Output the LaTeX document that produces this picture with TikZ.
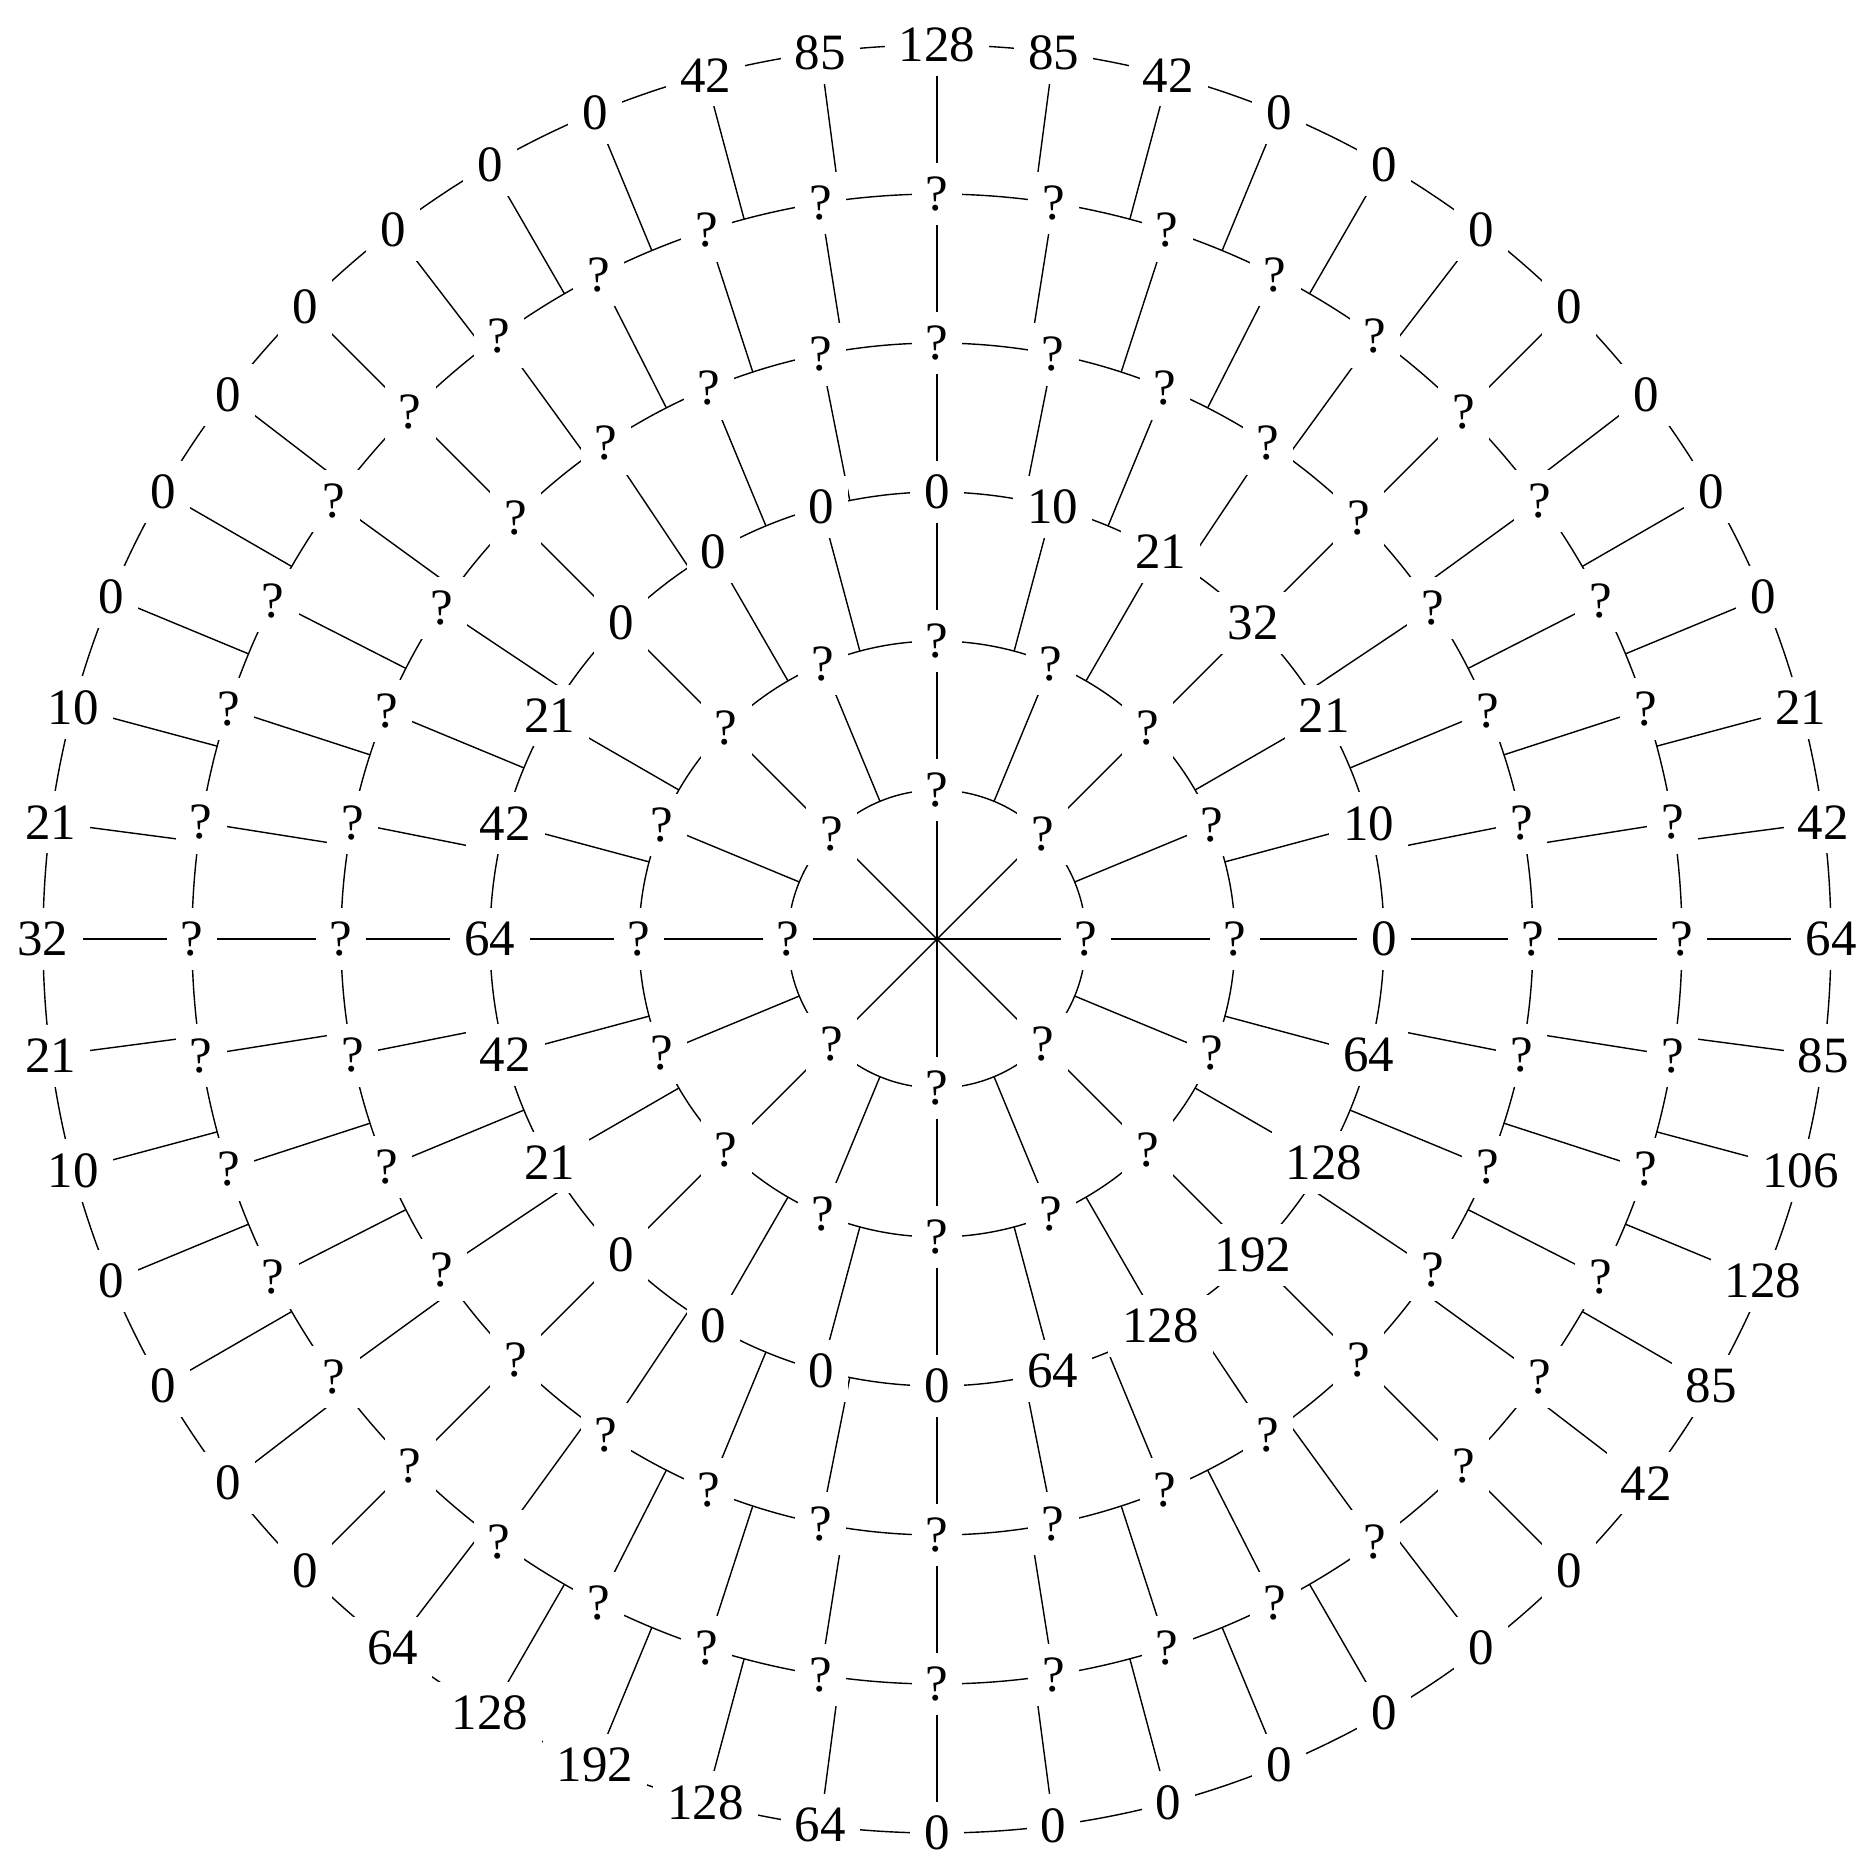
\documentclass[tikz,border=0pt]{standalone}
\usepackage{fontspec}
\setmainfont{Liberation Serif}
\usetikzlibrary{backgrounds}
\tikzset{>=latex,
  cell/.style={fill=white,inner sep=4pt,font=\fontsize{14.5}{16}\selectfont}}

\begin{document}
\begin{tikzpicture}[line width=0.75pt]
\useasboundingbox (-9.37,-9.33) rectangle (9.39,9.39);
% unknown rings
\foreach \r/\n in {1/8,2/16,4/32,5/40}
  \foreach \i in {1,...,\n}
    \node[cell] (c\r-\i) at ({90-(\i-1)*(360/\n)}:{\r*1.49}) {?};
% ring 3
\foreach \v [count=\i] in {0,10,21,32,21,10,0,64,128,192,128,64,0,0,0,0,21,42,64,42,21,0,0,0}
  \node[cell] (c3-\i) at ({90-(\i-1)*15}:{3*1.49}) {\v};
% outer ring
\foreach \v [count=\i] in {128,85,42,0,0,0,0,0,0,0,21,42,64,85,106,128,85,42,0,0,0,0,0,0,0,64,128,192,128,64,0,0,0,0,10,21,32,21,10,0,0,0,0,0,0,0,42,85}
  \node[cell] (c6-\i) at ({90-(\i-1)*7.5}:{6*1.49}) {\v};
\begin{pgfonlayer}{background}
\foreach \r in {1,...,6}
  \draw (0,0) circle ({\r*1.49});
% spokes to the next ring inside
\foreach \r in {1,...,6} {
  \pgfmathtruncatemacro\n{8*\r}
  \foreach \i in {1,...,\n}
    \draw (c\r-\i.center) -- ({90-(\i-1)*(360/\n)}:{(\r-1)*1.49});
}
\end{pgfonlayer}
\end{tikzpicture}
\end{document}
